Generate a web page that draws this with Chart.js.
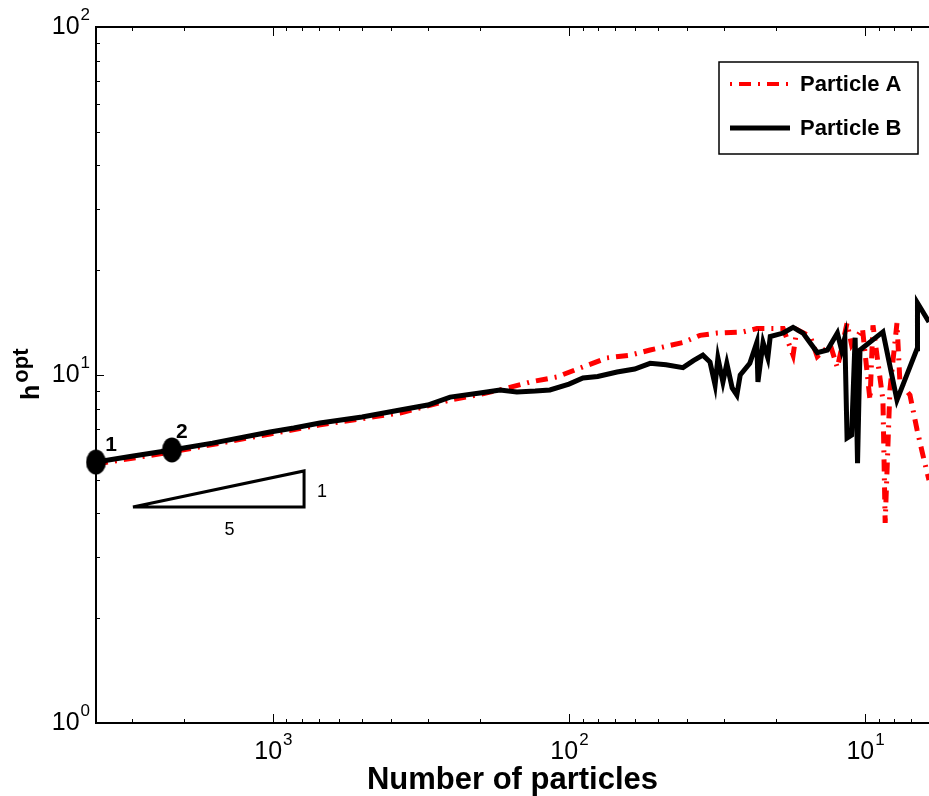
<!DOCTYPE html>
<html>
<head>
<meta charset="utf-8">
<script src="https://cdn.jsdelivr.net/npm/chart.js@4/dist/chart.umd.min.js"></script>
<style>
  body { margin: 0; background: #fff; }
  #wrap { width: 929px; height: 796px; position: relative; }
</style>
</head>
<body>
<div id="wrap"><canvas id="hoptChart"></canvas></div>
<script>
// Particle B (black solid): number of particles vs h_opt
const particlesB = [3960, 3000, 2194, 1600, 1023, 850, 694, 500, 372, 300, 252, 200, 171, 150, 130, 116, 100, 89.7, 80, 68.8, 60, 53.2, 47, 41.2, 38, 35.3, 33.4, 32.1, 31.4, 30.2, 29.3, 28.1, 27.1, 26.4, 24.5, 23.2, 23.0, 22.1, 21.3, 20.9, 18.9, 17.5, 16.2, 14.5, 13.4, 12.4, 12.0, 11.7, 11.5, 11.1, 10.8, 10.6, 10.4, 8.7, 7.8, 6.67, 6.65, 6.08];
const hoptB = [5.62, 5.84, 6.09, 6.37, 6.86, 7.04, 7.28, 7.57, 7.93, 8.2, 8.64, 8.88, 9.06, 8.94, 8.99, 9.06, 9.42, 9.8, 9.9, 10.2, 10.4, 10.8, 10.7, 10.5, 11.0, 11.4, 10.9, 9.36, 11.2, 9.55, 10.8, 9.18, 8.76, 10.0, 10.8, 12.4, 9.55, 12.4, 11.2, 12.9, 13.2, 13.7, 13.2, 11.6, 11.8, 13.2, 11.8, 12.8, 6.59, 6.72, 12.8, 5.58, 11.8, 13.3, 8.47, 11.9, 16.1, 14.2];

// Particle A (red dash-dot)
const particlesA = [3960, 2194, 1023, 700, 372, 252, 200, 171, 135, 110, 91.8, 74.4, 62.2, 53.2, 41.2, 36.1, 31.6, 25.8, 23.2, 18.9, 17.5, 17.0, 15.3, 14.5, 13.1, 12.4, 11.5, 11.1, 10.2, 9.62, 9.4, 8.7, 8.55, 8.24, 7.8, 7.62, 7.05, 6.67, 6.32, 6.08];
const hoptA = [5.55, 6.01, 6.77, 7.18, 7.78, 8.47, 8.8, 9.06, 9.55, 9.87, 10.47, 11.2, 11.4, 11.8, 12.4, 13.0, 13.2, 13.3, 13.6, 13.6, 11.4, 13.5, 12.9, 11.3, 12.2, 10.5, 14.1, 12.2, 13.6, 8.47, 13.9, 8.47, 3.76, 9.06, 14.1, 9.49, 8.76, 6.95, 5.7, 4.99];

// marked points 1 and 2
const markN = [3960, 2194];
const markH = [5.62, 6.09];
const markLabels = ["1", "2"];

// slope triangle (1:5)
const triN = [2972, 785, 785, 2972];
const triH = [4.175, 4.175, 5.3, 4.175];

const xTickExps = [3, 2, 1];
const yTickExps = [0, 1, 2];

const toPoints = (xs, ys) => xs.map((x, i) => ({ x: x, y: ys[i] }));

// ellipse marker for the numbered points
const ellipse = document.createElement("canvas");
ellipse.width = 21;
ellipse.height = 26;
{
  const c = ellipse.getContext("2d");
  c.fillStyle = "#000";
  c.beginPath();
  c.ellipse(10.5, 13, 10, 12.5, 0, 0, Math.PI * 2);
  c.fill();
}

// draws "10" with a raised exponent
function drawPower(ctx, exp, x, y, align) {
  ctx.font = "25px 'Liberation Sans', Arial, sans-serif";
  const wBase = ctx.measureText("10").width;
  ctx.font = "17px 'Liberation Sans', Arial, sans-serif";
  const wExp = ctx.measureText(String(exp)).width;
  let left = align === "right" ? x - wBase - wExp - 1 : x - (wBase + wExp) / 2;
  ctx.textBaseline = "middle";
  ctx.textAlign = "left";
  ctx.font = "25px 'Liberation Sans', Arial, sans-serif";
  ctx.fillText("10", left, y);
  ctx.font = "17px 'Liberation Sans', Arial, sans-serif";
  ctx.fillText(String(exp), left + wBase + 1, y - 12);
}

const framePlugin = {
  id: "framePlugin",
  afterDraw(chart) {
    const ctx = chart.ctx;
    const area = chart.chartArea;
    const xs = chart.scales.x;
    const ys = chart.scales.y;
    ctx.save();
    ctx.strokeStyle = "#000";
    ctx.fillStyle = "#000";

    // top line of the box
    ctx.lineWidth = 2;
    ctx.beginPath();
    ctx.moveTo(area.left, area.top);
    ctx.lineTo(area.right, area.top);
    ctx.stroke();

    // inward ticks
    ctx.lineWidth = 1;
    ctx.beginPath();
    [1, 10, 100, 1000].forEach((d) => {
      for (let m = 1; m <= 9; m++) {
        const v = m * d;
        if (v < xs.min || v > xs.max) continue;
        const px = Math.round(xs.getPixelForValue(v)) + 0.5;
        const len = m === 1 ? 9 : 4;
        ctx.moveTo(px, area.bottom);
        ctx.lineTo(px, area.bottom - len);
        ctx.moveTo(px, area.top);
        ctx.lineTo(px, area.top + len);
      }
    });
    [1, 10, 100].forEach((d) => {
      for (let m = 1; m <= 9; m++) {
        const v = m * d;
        if (v < ys.min || v > ys.max) continue;
        const py = Math.round(ys.getPixelForValue(v)) + 0.5;
        const len = m === 1 ? 8 : 4;
        ctx.moveTo(area.left, py);
        ctx.lineTo(area.left + len, py);
      }
    });
    ctx.stroke();

    // tick labels
    xTickExps.forEach((e) => {
      drawPower(ctx, e, xs.getPixelForValue(Math.pow(10, e)), area.bottom + 29, "center");
    });
    yTickExps.forEach((e) => {
      drawPower(ctx, e, area.left - 6, ys.getPixelForValue(Math.pow(10, e)), "right");
    });

    // axis titles
    ctx.textAlign = "center";
    ctx.textBaseline = "alphabetic";
    ctx.font = "bold 31px 'Liberation Sans', Arial, sans-serif";
    ctx.fillText("Number of particles", (area.left + area.right) / 2, 789);

    ctx.save();
    ctx.translate(39, 400);
    ctx.rotate(-Math.PI / 2);
    ctx.textAlign = "left";
    ctx.font = "bold 25px 'Liberation Sans', Arial, sans-serif";
    ctx.fillText("h", 0, 0);
    const wh = ctx.measureText("h").width;
    ctx.font = "bold 22px 'Liberation Sans', Arial, sans-serif";
    ctx.fillText("opt", wh + 2, -11);
    ctx.restore();

    // labels of the marked points
    ctx.font = "bold 21px 'Liberation Sans', Arial, sans-serif";
    ctx.textAlign = "center";
    ctx.textBaseline = "middle";
    const offs = [[15, -17], [10, -18]];
    markN.forEach((n, i) => {
      ctx.fillText(markLabels[i], xs.getPixelForValue(n) + offs[i][0], ys.getPixelForValue(markH[i]) + offs[i][1]);
    });

    // slope triangle labels
    ctx.font = "18px 'Liberation Sans', Arial, sans-serif";
    const baseMid = Math.sqrt(triN[0] * triN[1]);
    ctx.fillText("5", xs.getPixelForValue(baseMid) + 11, ys.getPixelForValue(triH[0]) + 23);
    const sideMid = Math.sqrt(triH[1] * triH[2]);
    ctx.fillText("1", xs.getPixelForValue(triN[1]) + 18, ys.getPixelForValue(sideMid) + 3);

    // legend
    const bx = area.right - 210, by = area.top + 35, bw = 199, bh = 92;
    ctx.fillStyle = "#fff";
    ctx.fillRect(bx, by, bw, bh);
    ctx.lineWidth = 1.5;
    ctx.strokeStyle = "#000";
    ctx.strokeRect(bx, by, bw, bh);
    ctx.font = "bold 22px 'Liberation Sans', Arial, sans-serif";
    ctx.textAlign = "left";
    ctx.textBaseline = "middle";
    chart.data.datasets.slice(0, 2).forEach((ds, i) => {
      const ly = by + 22 + i * 44;
      ctx.strokeStyle = ds.borderColor;
      ctx.lineWidth = i === 0 ? 4 : 5;
      ctx.setLineDash(ds.borderDash || []);
      ctx.lineDashOffset = ds.borderDash ? 19 : 0;
      ctx.beginPath();
      ctx.moveTo(bx + 11, ly);
      ctx.lineTo(bx + 71, ly);
      ctx.stroke();
      ctx.setLineDash([]);
      ctx.lineDashOffset = 0;
      ctx.fillStyle = "#000";
      ctx.fillText(ds.label, bx + 81, ly + 1);
    });
    ctx.restore();
  },
};

const ctx = document.getElementById("hoptChart").getContext("2d");
new Chart(ctx, {
  type: "scatter",
  data: {
    datasets: [
      {
        label: "Particle A",
        data: toPoints(particlesA, hoptA),
        showLine: true,
        borderColor: "#ff0000",
        borderWidth: 5,
        borderDash: [12, 7, 2, 7],
        pointRadius: 0,
        tension: 0,
        order: 2,
      },
      {
        label: "Particle B",
        data: toPoints(particlesB, hoptB),
        showLine: true,
        borderColor: "#000000",
        borderWidth: 5,
        pointRadius: 0,
        tension: 0,
        order: 1,
      },
      {
        label: "slope",
        data: toPoints(triN, triH),
        showLine: true,
        borderColor: "#000000",
        borderWidth: 3,
        pointRadius: 0,
        tension: 0,
        order: 0,
      },
      {
        label: "marks",
        data: toPoints(markN, markH),
        pointStyle: ellipse,
        pointRadius: 12,
        clip: false,
        order: 0,
      },
    ],
  },
  options: {
    responsive: true,
    maintainAspectRatio: false,
    animation: false,
    layout: { autoPadding: false, padding: { left: 96, top: 27, right: 0, bottom: 73 } },
    scales: {
      x: {
        type: "logarithmic",
        reverse: true,
        min: 6.08,
        max: 3960,
        ticks: { display: false },
        grid: { display: false, drawTicks: false },
        border: { display: true, color: "#000", width: 2 },
      },
      y: {
        type: "logarithmic",
        min: 1,
        max: 100,
        ticks: { display: false },
        grid: { display: false, drawTicks: false },
        border: { display: true, color: "#000", width: 2 },
      },
    },
    plugins: {
      legend: { display: false },
      tooltip: { enabled: false },
    },
  },
  plugins: [framePlugin],
});
</script>
</body>
</html>
